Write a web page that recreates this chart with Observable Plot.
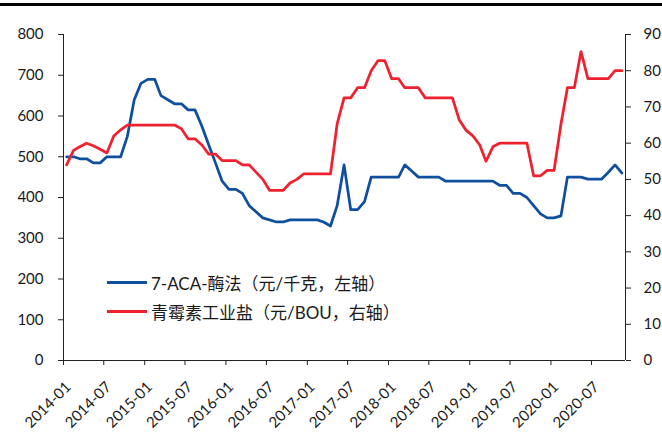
<!DOCTYPE html>
<html><head><meta charset="utf-8">
<script src="https://cdn.jsdelivr.net/npm/d3@7"></script>
<script src="https://cdn.jsdelivr.net/npm/@observablehq/plot@0.6"></script>
<style>
body{margin:0;background:#fff;}
#wrap{position:relative;width:662px;height:434px;overflow:hidden;background:#fff;}
#topbar{position:absolute;left:0;top:3px;width:662px;height:3px;background:#000;}
.leg{position:absolute;left:107px;height:20px;display:flex;align-items:center;font:17px Lato,"Noto Sans CJK SC",sans-serif;color:#1a1a1a;white-space:nowrap;}
.leg .sw{display:inline-block;width:40px;height:3px;margin-right:4px;}
</style>
</head><body>
<div id="wrap"><div id="topbar"></div></div>
<script>
// ---- data ----
const startMonth = "2014-01";
const endMonth = "2020-11";
const aca = [ // 7-ACA-酶法（元/千克，左轴）
  500,500,495,495,485,485,500,500,500,550,640,680,690,690,650,640,630,630,615,615,
  575,530,485,440,420,420,410,380,365,350,345,340,340,345,345,345,345,345,340,330,
  380,480,370,370,390,450,450,450,450,450,480,465,450,450,450,450,440,440,440,440,
  440,440,440,440,430,430,410,410,400,380,360,350,350,355,450,450,450,445,445,445,462,480,460
];
const penicillin = [ // 青霉素工业盐（元/BOU，右轴）
  54,58,59,60,59.3,58.3,57.3,62,63.7,65,65,65,65,65,65,65,65,64,61.2,61.2,
  59.5,57,57,55.2,55.2,55.2,54,54,52,50,47,47,47,49,50,51.5,51.5,51.5,51.5,51.5,
  65.3,72.5,72.5,75.3,75.3,80,82.8,82.8,77.8,77.8,75.3,75.3,75.3,72.5,72.5,72.5,72.5,72.5,66.4,63.6,
  62,59.5,55,59,60,60,60,60,60,51,51,52.5,52.5,65.3,75.3,75.3,85.3,77.8,77.8,77.8,77.8,80,80
];
const leftTicks = [0,100,200,300,400,500,600,700,800];
const rightTicks = [0,10,20,30,40,50,60,70,80,90];
const xTickLabels = ["2014-01","2014-07","2015-01","2015-07","2016-01","2016-07","2017-01","2017-07","2018-01","2018-07","2019-01","2019-07","2020-01","2020-07"];
const seriesNames = ["7-ACA-酶法（元/千克，左轴）","青霉素工业盐（元/BOU，右轴）"];
const colors = ["#0f4f9e","#f0212f"];

// ---- build ----
const parseM = d3.utcParse("%Y-%m");
const months = d3.utcMonth.range(parseM(startMonth), d3.utcMonth.offset(parseM(endMonth),1));
const table = months.map((m,i)=>({date:d3.utcDay.offset(m,14), aca:aca[i], pen:penicillin[i]}));
const K = 800/90;
const x0 = parseM("2014-01"), x1 = parseM("2020-12");
const xt = xTickLabels.map(parseM);
const fmt = d3.utcFormat("%Y-%m");

const chart = Plot.plot({
  width:662, height:434,
  marginLeft:63, marginRight:37, marginTop:34, marginBottom:74,
  style:{fontFamily:"Lato, 'Noto Sans CJK SC', sans-serif", fontSize:"15px", color:"#1a1a1a", background:"transparent", overflow:"visible"},
  x:{type:"utc", domain:[x0,x1]},
  y:{domain:[0,800]},
  marks:[
    Plot.axisY(leftTicks, {anchor:"left", tickSize:5, tickPadding:15, label:null, stroke:"#222"}),
    Plot.axisY(rightTicks.map(d=>d*K), {anchor:"right", tickSize:5, tickPadding:13, label:null, tickFormat:d=>Math.round(d/K), stroke:"#222"}),
    Plot.axisX(xt, {tickSize:5, tickFormat:()=>"", label:null, stroke:"#222"}),
    Plot.axisX(xt, {tickFormat:fmt, tickRotate:-45, tickSize:0, tickPadding:24, dx:5, label:null}),
    Plot.ruleX([x0, x1], {stroke:"#222"}),
    Plot.ruleY([0], {stroke:"#222"}),
    Plot.line(table, {x:"date", y:"aca", stroke:colors[0], strokeWidth:2.75}),
    Plot.line(table, {x:"date", y:d=>d.pen*K, stroke:colors[1], strokeWidth:2.75})
  ]
});
const wrap = document.getElementById("wrap");
wrap.insertBefore(chart, wrap.firstChild);
chart.style.position="absolute"; chart.style.left="0"; chart.style.top="0";
const legY = [282, 311];
seriesNames.forEach((n,i)=>{
  const d = document.createElement("div");
  d.className="leg";
  d.style.top = (legY[i]-10)+"px";
  d.innerHTML = `<span class="sw" style="background:${colors[i]}"></span><span>${n}</span>`;
  wrap.appendChild(d);
});
</script>
</body></html>
